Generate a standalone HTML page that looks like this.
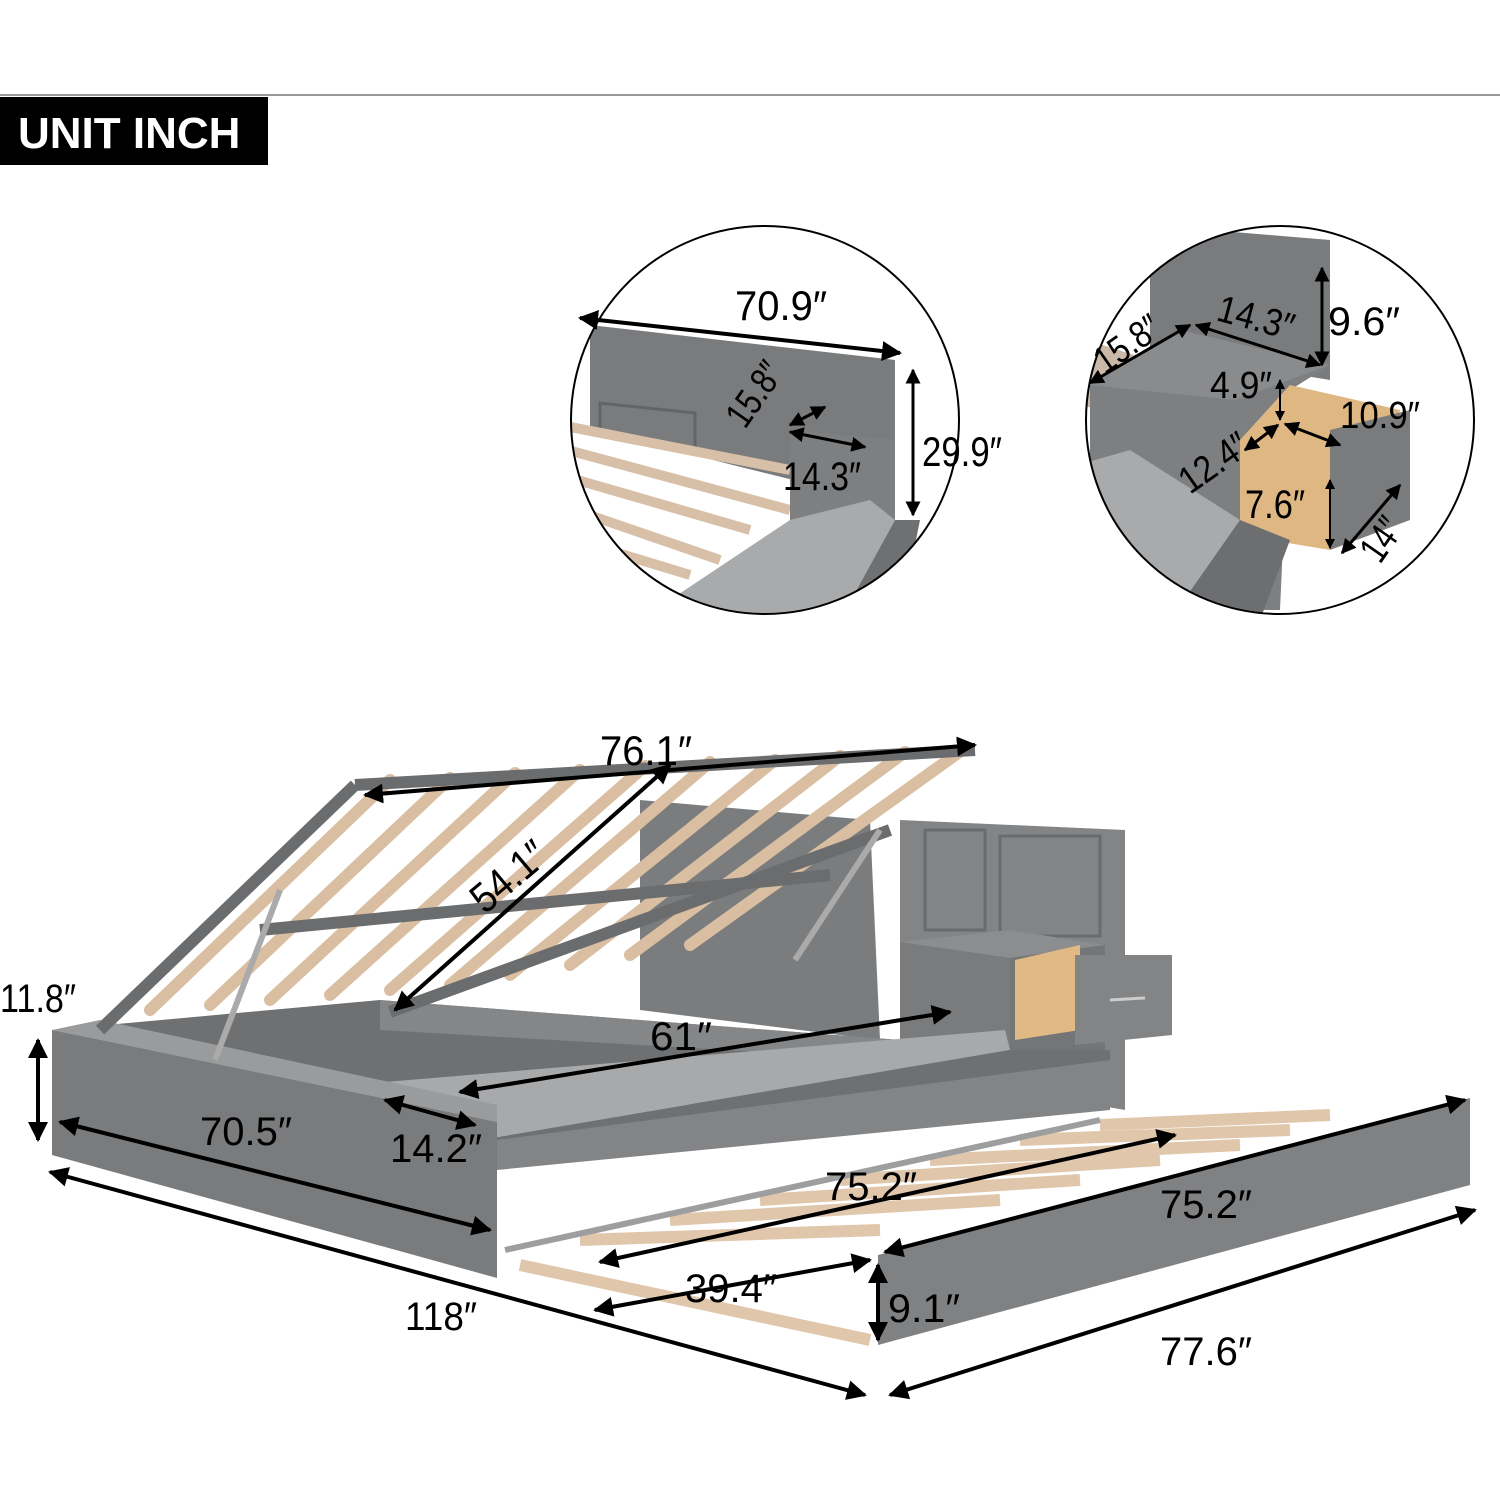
<!DOCTYPE html>
<html><head><meta charset="utf-8"><style>
html,body{margin:0;padding:0;background:#fff;}
svg{display:block}
text{font-family:"Liberation Sans Narrow","Liberation Sans",sans-serif;fill:#000;}
</style></head><body>
<svg width="1500" height="1500" viewBox="0 0 1500 1500" xmlns="http://www.w3.org/2000/svg">
<defs>
<marker id="a" viewBox="0 0 10 10" refX="9" refY="5" markerWidth="5" markerHeight="5" orient="auto-start-reverse"><path d="M0,0 L10,5 L0,10 z" fill="#000"/></marker>
<clipPath id="c1"><circle cx="765" cy="420" r="194"/></clipPath>
<clipPath id="c2"><circle cx="1280" cy="420" r="194"/></clipPath>
</defs>
<rect width="1500" height="1500" fill="#fff"/>
<line x1="0" y1="95" x2="1500" y2="95" stroke="#777" stroke-width="1.5"/>
<rect x="0" y="97" width="268" height="68" fill="#000"/>
<text x="18" y="148" font-size="44" font-weight="bold" style="fill:#fff" font-family="Liberation Sans">UNIT INCH</text>

<!-- circle 1 -->
<g clip-path="url(#c1)">
<polygon points="590,325 895,360 895,505 590,430" fill="#7a7b7d"/>
<rect x="600" y="340" width="95" height="70" fill="none" stroke="#636466" stroke-width="3" transform="skewY(6)"/>
<polygon points="560,420 790,480 790,620 560,620" fill="#fff"/>
<g stroke="#d8c0a8" stroke-width="10">
<line x1="560" y1="425" x2="790" y2="470"/><line x1="560" y1="448" x2="790" y2="510"/>
<line x1="560" y1="475" x2="750" y2="530"/><line x1="560" y1="505" x2="720" y2="560"/>
<line x1="575" y1="540" x2="690" y2="575"/><line x1="595" y1="570" x2="670" y2="600"/>
</g>
<polygon points="790,430 895,440 895,520 790,520" fill="#7e7f81"/>
<polygon points="640,620 790,520 870,500 895,520 840,620" fill="#a9aaac"/>
<polygon points="840,620 895,520 920,520 900,620" fill="#6f7072"/>
</g>
<circle cx="765" cy="420" r="194" fill="none" stroke="#000" stroke-width="2"/>
<text x="735" y="320" font-size="42" textLength="92" lengthAdjust="spacingAndGlyphs">70.9″</text>
<line x1="580" y1="318" x2="900" y2="353" stroke="#000" stroke-width="4" marker-start="url(#a)" marker-end="url(#a)"/>
<line x1="913" y1="370" x2="913" y2="515" stroke="#000" stroke-width="3" marker-start="url(#a)" marker-end="url(#a)"/>
<text x="922" y="466" font-size="42" textLength="80" lengthAdjust="spacingAndGlyphs">29.9″</text>
<text x="0" y="0" font-size="38" textLength="70" lengthAdjust="spacingAndGlyphs" transform="translate(745,430) rotate(-55)">15.8″</text>
<line x1="790" y1="425" x2="825" y2="407" stroke="#000" stroke-width="3" marker-start="url(#a)" marker-end="url(#a)"/>
<line x1="790" y1="432" x2="865" y2="447" stroke="#000" stroke-width="3" marker-start="url(#a)" marker-end="url(#a)"/>
<text x="783" y="490" font-size="40" textLength="78" lengthAdjust="spacingAndGlyphs">14.3″</text>

<!-- circle 2 -->
<g clip-path="url(#c2)">
<polygon points="1150,225 1330,240 1330,380 1150,350" fill="#7a7b7d"/>
<polygon points="1055,330 1150,360 1150,420 1055,400" fill="#c9b9a6"/>
<polygon points="1090,385 1180,330 1330,365 1290,390 1280,610 1140,610 1090,560" fill="#7e7f81"/>
<polygon points="1090,385 1180,330 1330,365 1235,400" fill="#8a8b8d"/>
<polygon points="1240,440 1290,385 1400,410 1380,520 1330,500 1330,550 1240,535" fill="#dfb783"/>
<polygon points="1330,430 1410,410 1410,520 1330,550" fill="#7a7b7d"/>
<polygon points="1060,470 1130,450 1240,520 1240,620 1060,620" fill="#a9aaac"/>
<polygon points="1170,620 1240,520 1290,540 1260,620" fill="#6d6e70"/>
</g>
<circle cx="1280" cy="420" r="194" fill="none" stroke="#000" stroke-width="2"/>
<line x1="1322" y1="268" x2="1322" y2="365" stroke="#000" stroke-width="3" marker-start="url(#a)" marker-end="url(#a)"/>
<text x="1328" y="335" font-size="40" textLength="72" lengthAdjust="spacingAndGlyphs">9.6″</text>
<line x1="1090" y1="383" x2="1190" y2="325" stroke="#000" stroke-width="3" marker-start="url(#a)" marker-end="url(#a)"/>
<text x="0" y="0" font-size="38" textLength="72" lengthAdjust="spacingAndGlyphs" transform="translate(1105,375) rotate(-35)">15.8″</text>
<line x1="1196" y1="325" x2="1320" y2="365" stroke="#000" stroke-width="3" marker-start="url(#a)" marker-end="url(#a)"/>
<text x="0" y="0" font-size="38" textLength="78" lengthAdjust="spacingAndGlyphs" transform="translate(1215,320) rotate(15)">14.3″</text>
<text x="1210" y="398" font-size="38" textLength="62" lengthAdjust="spacingAndGlyphs">4.9″</text>
<line x1="1280" y1="380" x2="1280" y2="420" stroke="#000" stroke-width="2" marker-start="url(#a)" marker-end="url(#a)"/>
<line x1="1285" y1="424" x2="1340" y2="445" stroke="#000" stroke-width="3" marker-start="url(#a)" marker-end="url(#a)"/>
<text x="1340" y="428" font-size="38" textLength="80" lengthAdjust="spacingAndGlyphs">10.9″</text>
<line x1="1245" y1="450" x2="1278" y2="425" stroke="#000" stroke-width="3" marker-start="url(#a)" marker-end="url(#a)"/>
<text x="0" y="0" font-size="38" textLength="76" lengthAdjust="spacingAndGlyphs" transform="translate(1190,495) rotate(-35)">12.4″</text>
<text x="1245" y="518" font-size="40" textLength="60" lengthAdjust="spacingAndGlyphs">7.6″</text>
<line x1="1330" y1="480" x2="1330" y2="548" stroke="#000" stroke-width="2" marker-start="url(#a)" marker-end="url(#a)"/>
<line x1="1342" y1="553" x2="1400" y2="485" stroke="#000" stroke-width="3" marker-start="url(#a)" marker-end="url(#a)"/>
<text x="0" y="0" font-size="40" textLength="44" lengthAdjust="spacingAndGlyphs" transform="translate(1380,565) rotate(-55)">14″</text>

<!-- MAIN BED -->
<!-- back rails/headboard -->
<polygon points="640,800 870,820 880,1040 640,1010" fill="#7b7c7e"/>
<polygon points="900,820 1125,830 1125,1110 1010,1090 900,1050" fill="#838486"/>
<rect x="1000" y="836" width="100" height="100" fill="none" stroke="#6a6b6d" stroke-width="3"/>
<rect x="925" y="830" width="60" height="100" fill="none" stroke="#6a6b6d" stroke-width="3"/>
<!-- nightstand -->
<polygon points="900,942 1010,930 1105,945 1010,958" fill="#8c8d8f"/>
<polygon points="900,942 1010,958 1010,1050 900,1040" fill="#7a7b7d"/>
<polygon points="1010,958 1105,945 1105,1050 1010,1050" fill="#747577"/>
<polygon points="1015,960 1080,945 1080,1030 1015,1040" fill="#e0b985"/>
<polygon points="1075,955 1172,955 1172,1035 1075,1045" fill="#838486"/>
<line x1="1110" y1="1000" x2="1145" y2="998" stroke="#ccc" stroke-width="3"/>
<!-- lower frame / storage box -->
<polygon points="52,1030 380,1000 900,1040 1010,1050 1010,1070 497,1125" fill="#6f7072"/>
<polygon points="380,1000 900,1040 900,1060 380,1030" fill="#858688"/>
<!-- bench cushion -->
<polygon points="385,1082 1005,1030 1010,1050 480,1140 385,1098" fill="#a8a9ab"/>
<polygon points="480,1140 1010,1050 1110,1050 1110,1075 497,1160" fill="#6f7072"/>
<polygon points="497,1140 1110,1060 1110,1110 497,1170" fill="#838486"/>
<!-- footboard front -->
<polygon points="52,1030 497,1122 497,1278 52,1155" fill="#7a7b7d"/>
<polygon points="52,1030 100,1020 497,1105 497,1122" fill="#9a9b9d"/>
<!-- lifted slat frame -->
<g stroke="#d9bea1" stroke-width="12" stroke-linecap="round">
<line x1="150" y1="1010" x2="390" y2="780"/><line x1="210" y1="1005" x2="450" y2="778"/>
<line x1="270" y1="1000" x2="515" y2="773"/><line x1="330" y1="995" x2="580" y2="770"/>
<line x1="390" y1="990" x2="645" y2="766"/><line x1="450" y1="985" x2="710" y2="762"/>
<line x1="510" y1="975" x2="775" y2="760"/><line x1="570" y1="965" x2="840" y2="756"/>
<line x1="630" y1="955" x2="905" y2="752"/><line x1="690" y1="945" x2="965" y2="748"/>
</g>
<g stroke="#6b6c6e" stroke-width="12">
<line x1="100" y1="1030" x2="355" y2="785"/>
<line x1="355" y1="785" x2="975" y2="750"/>
<line x1="390" y1="1012" x2="890" y2="830"/>
<line x1="260" y1="930" x2="830" y2="875"/>
</g>
<line x1="215" y1="1060" x2="280" y2="890" stroke="#aaa" stroke-width="6"/>
<line x1="795" y1="960" x2="880" y2="830" stroke="#aaa" stroke-width="6"/>
<!-- trundle slats -->
<g stroke="#e0c7ab" stroke-width="12">
<line x1="520" y1="1265" x2="870" y2="1340"/>
<line x1="580" y1="1240" x2="880" y2="1230"/><line x1="670" y1="1220" x2="1000" y2="1200"/>
<line x1="760" y1="1200" x2="1080" y2="1180"/><line x1="840" y1="1180" x2="1160" y2="1160"/>
<line x1="930" y1="1160" x2="1240" y2="1145"/><line x1="1020" y1="1140" x2="1290" y2="1130"/>
<line x1="1100" y1="1125" x2="1330" y2="1115"/>
</g>
<line x1="505" y1="1250" x2="1100" y2="1120" stroke="#9d9ea0" stroke-width="6"/>
<!-- trundle front -->
<polygon points="878,1255 1470,1098 1470,1185 878,1345" fill="#808183"/>

<!-- main dimensions -->
<g stroke="#000" stroke-width="4" marker-start="url(#a)" marker-end="url(#a)">
<line x1="365" y1="795" x2="975" y2="745"/>
<line x1="395" y1="1010" x2="670" y2="765"/>
<line x1="460" y1="1092" x2="950" y2="1012"/>
<line x1="385" y1="1100" x2="475" y2="1125"/>
<line x1="38" y1="1040" x2="38" y2="1140"/>
<line x1="60" y1="1122" x2="490" y2="1230"/>
<line x1="50" y1="1172" x2="865" y2="1395"/>
<line x1="600" y1="1262" x2="1175" y2="1135"/>
<line x1="885" y1="1252" x2="1465" y2="1100"/>
<line x1="595" y1="1310" x2="870" y2="1260"/>
<line x1="878" y1="1265" x2="878" y2="1340"/>
<line x1="890" y1="1395" x2="1475" y2="1210"/>
</g>
<text x="600" y="765" font-size="42" textLength="92" lengthAdjust="spacingAndGlyphs">76.1″</text>
<text x="0" y="0" font-size="42" textLength="86" lengthAdjust="spacingAndGlyphs" transform="translate(485,915) rotate(-40)">54.1″</text>
<text x="650" y="1050" font-size="40" textLength="62" lengthAdjust="spacingAndGlyphs">61″</text>
<text x="0" y="0" font-size="40" textLength="76" lengthAdjust="spacingAndGlyphs" transform="translate(0,1012)">11.8″</text>
<text x="200" y="1145" font-size="40" textLength="92" lengthAdjust="spacingAndGlyphs">70.5″</text>
<text x="390" y="1162" font-size="40" textLength="92" lengthAdjust="spacingAndGlyphs">14.2″</text>
<text x="405" y="1330" font-size="40" textLength="72" lengthAdjust="spacingAndGlyphs">118″</text>
<text x="825" y="1200" font-size="40" textLength="92" lengthAdjust="spacingAndGlyphs">75.2″</text>
<text x="1160" y="1218" font-size="40" textLength="92" lengthAdjust="spacingAndGlyphs">75.2″</text>
<text x="685" y="1302" font-size="40" textLength="92" lengthAdjust="spacingAndGlyphs">39.4″</text>
<text x="888" y="1322" font-size="40" textLength="72" lengthAdjust="spacingAndGlyphs">9.1″</text>
<text x="1160" y="1365" font-size="40" textLength="92" lengthAdjust="spacingAndGlyphs">77.6″</text>
</svg>
</body></html>
